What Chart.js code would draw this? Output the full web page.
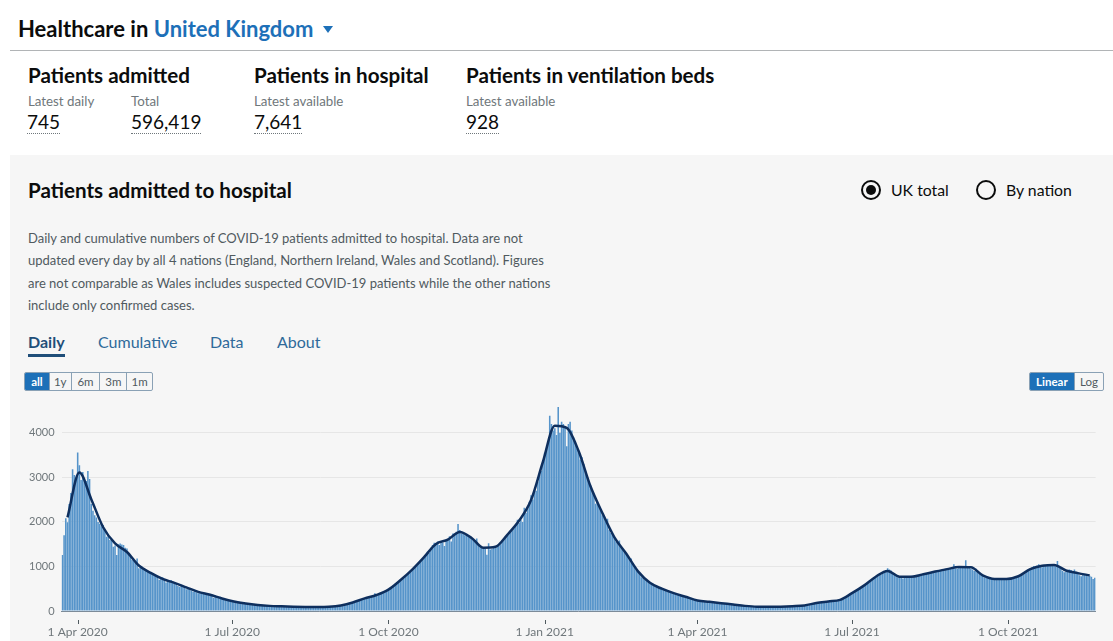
<!DOCTYPE html>
<html>
<head>
<meta charset="utf-8">
<script src="https://cdn.jsdelivr.net/npm/chart.js@4.4.1/dist/chart.umd.min.js"></script>
<style>
  body { margin: 0; width: 1113px; height: 641px; overflow: hidden; background: #fff; position: relative;
         font-family: Lato, "Noto Sans", sans-serif; color: #0b0c0c; }
  .t { position: absolute; white-space: nowrap; line-height: 1; }
  .b { font-weight: 700; }
  .h2 { font-size: 20.6px; font-weight: 700; }
  .lbl { font-size: 13.3px; color: #6f777b; }
  .num { font-size: 19px; padding-bottom: 2px; border-bottom: 1px dotted #6f777b; display: inline-block; }
  #rule { position: absolute; left: 10px; right: 0; top: 50px; height: 1px; background: #b1b4b6; }
  #panel { position: absolute; left: 10px; top: 155px; right: 0; bottom: 0; background: #f6f6f6; }
  .radio { position: absolute; width: 16px; height: 16px; border: 2px solid #0b0c0c; border-radius: 50%; }
  .radio.on::after { content: ""; position: absolute; left: 3px; top: 3px; width: 10px; height: 10px; border-radius: 50%; background: #0b0c0c; }
  #desc { position: absolute; left: 28px; top: 227px; font-size: 13px; line-height: 22.3px; color: #505a5f; white-space: nowrap; }
  .tab { font-size: 16px; color: #2f6a9a; top: 334px; }
  .seg { position: absolute; top: 372px; height: 19px; display: flex; border: 1px solid #8aa1b5; border-radius: 2px; box-sizing: border-box; overflow: hidden; }
  .seg span { display: block; height: 17px; line-height: 17px; text-align: center; font-size: 11.5px; color: #505a5f; border-left: 1px solid #8aa1b5; box-sizing: border-box; }
  .seg span:first-child { border-left: none; }
  .seg span.on { background: #1d70b8; color: #fff; font-weight: 700; }
  #wrap { position: absolute; left: 20px; top: 388px; width: 1093px; height: 253px; }
</style>
</head>
<body>
<div class="t b" style="left:18px;top:18px;font-size:22px">Healthcare in <span style="color:#1d70b8">United Kingdom</span></div>
<div style="position:absolute;left:323px;top:26px;width:0;height:0;border-left:5.5px solid transparent;border-right:5.5px solid transparent;border-top:7px solid #1d70b8"></div>
<div id="rule"></div>

<div class="t h2" style="left:28px;top:65px">Patients admitted</div>
<div class="t lbl" style="left:28px;top:94.5px">Latest daily</div>
<div class="t lbl" style="left:131px;top:94.5px">Total</div>
<div class="t" style="left:27px;top:112px"><span class="num">745</span></div>
<div class="t" style="left:131px;top:112px"><span class="num">596,419</span></div>

<div class="t h2" style="left:254px;top:65px">Patients in hospital</div>
<div class="t lbl" style="left:254px;top:94.5px">Latest available</div>
<div class="t" style="left:254px;top:112px"><span class="num">7,641</span></div>

<div class="t h2" style="left:466px;top:65px">Patients in ventilation beds</div>
<div class="t lbl" style="left:466px;top:94.5px">Latest available</div>
<div class="t" style="left:466px;top:112px"><span class="num">928</span></div>

<div id="panel"></div>
<div class="t h2" style="left:28px;top:180px">Patients admitted to hospital</div>

<div class="radio on" style="left:861px;top:180px"></div>
<div class="t" style="left:891px;top:182px;font-size:15.8px">UK total</div>
<div class="radio" style="left:976px;top:180px"></div>
<div class="t" style="left:1006px;top:182px;font-size:15.8px">By nation</div>

<div id="desc">Daily and cumulative numbers of COVID-19 patients admitted to hospital. Data are not<br>updated every day by all 4 nations (England, Northern Ireland, Wales and Scotland). Figures<br>are not comparable as Wales includes suspected COVID-19 patients while the other nations<br>include only confirmed cases.</div>

<div class="t tab b" style="left:28px;color:#1f4e79">Daily</div>
<div style="position:absolute;left:28px;top:354px;width:37px;height:3px;background:#1f4e79"></div>
<div class="t tab" style="left:98px">Cumulative</div>
<div class="t tab" style="left:210px">Data</div>
<div class="t tab" style="left:277px">About</div>

<div class="seg" style="left:24px;width:129px">
  <span class="on" style="width:24px">all</span><span style="width:22px">1y</span><span style="width:29px">6m</span><span style="width:27px">3m</span><span style="width:26px">1m</span>
</div>
<div class="seg" style="left:1029px;width:75px">
  <span class="on" style="width:45px">Linear</span><span style="width:30px">Log</span>
</div>

<div id="wrap"><canvas id="myChart"></canvas></div>

<script>
// first day of the series is 23 Mar 2020, one value per day, one line per week
var firstDay = '2020-03-23';
var dailyAdmissions = [
  1255, 1700, 2080, 1990, 2400, 2650, 3180,
  3050, 2980, 3557, 3270, 2940, 3120, 2915,
  2920, 3140, 2960, 2400, 2250, 2150, 2100,
  2000, 1960, 1900, 1930, 1820, 1667, 1700,
  1592, 1600, 1443, 1470, 1255, 1500, 1517,
  1490, 1480, 1420, 1405, 1300, 1218, 1150,
  1143, 1100, 1181, 957, 1000, 994, 950,
  920, 880, 860, 845, 830, 800, 790,
  780, 700, 740, 760, 720, 640, 690,
  660, 695, 650, 620, 600, 560, 545,
  590, 560, 540, 490, 520, 510, 460,
  433, 450, 420, 396, 410, 420, 380,
  390, 375, 395, 360, 340, 300, 350,
  310, 290, 321, 280, 260, 247, 250,
  230, 240, 209, 215, 200, 195, 210,
  180, 175, 165, 170, 160, 172, 155,
  150, 140, 145, 132, 128, 130, 125,
  120, 118, 135, 115, 110, 108, 112,
  108, 105, 104, 100, 98, 102, 100,
  96, 98, 94, 92, 97, 93, 95,
  90, 88, 92, 86, 91, 89, 94,
  88, 85, 90, 87, 92, 88, 93,
  90, 95, 92, 98, 96, 100, 95,
  105, 110, 118, 125, 130, 138, 145,
  155, 165, 175, 190, 200, 215, 230,
  245, 255, 270, 285, 300, 310, 320,
  335, 340, 396, 360, 375, 385, 380,
  410, 430, 460, 480, 520, 550, 580,
  610, 640, 670, 700, 730, 760, 790,
  830, 860, 900, 930, 970, 1000, 1020,
  1080, 1120, 1150, 1200, 1270, 1330, 1300,
  1420, 1480, 1530, 1520, 1560, 1480, 1550,
  1540, 1460, 1600, 1620, 1680, 1560, 1740,
  1700, 1780, 1950, 1820, 1740, 1730, 1700,
  1720, 1680, 1650, 1620, 1600, 1580, 1630,
  1500, 1450, 1420, 1390, 1400, 1260, 1520,
  1380, 1400, 1420, 1450, 1480, 1460, 1500,
  1580, 1620, 1680, 1700, 1760, 1820, 1810,
  1860, 1950, 2050, 1980, 2050, 2000, 2320,
  2200, 2300, 2450, 2600, 2500, 2700, 2700,
  2900, 3050, 3150, 3350, 3550, 3650, 3800,
  4380, 4200, 4050, 4100, 3950, 4580, 4000,
  4250, 4200, 4150, 3700, 4200, 4250, 4050,
  3900, 3800, 3650, 3550, 3400, 3450, 3300,
  3150, 3000, 2880, 2820, 2720, 2620, 2410,
  2450, 2380, 2250, 2150, 2100, 2000, 2070,
  1820, 1750, 1700, 1660, 1560, 1550, 1580,
  1430, 1400, 1350, 1300, 1220, 1150, 1180,
  1080, 1000, 920, 880, 850, 760, 740,
  700, 680, 650, 620, 600, 610, 585,
  560, 540, 520, 500, 480, 460, 440,
  450, 430, 410, 400, 380, 370, 360,
  345, 335, 330, 320, 310, 300, 300,
  265, 250, 240, 235, 225, 220, 225,
  215, 210, 205, 200, 205, 200, 200,
  185, 180, 175, 172, 170, 170, 173,
  155, 150, 148, 145, 140, 138, 139,
  125, 120, 118, 115, 110, 108, 109,
  102, 100, 98, 97, 95, 93, 94,
  92, 95, 93, 96, 94, 97, 98,
  96, 98, 97, 100, 99, 97, 99,
  102, 105, 108, 110, 112, 108, 111,
  115, 118, 122, 125, 130, 133, 132,
  150, 165, 175, 185, 190, 195, 200,
  205, 210, 212, 215, 218, 220, 225,
  228, 232, 235, 240, 250, 270, 295,
  320, 350, 380, 400, 430, 450, 470,
  500, 520, 550, 570, 600, 620, 630,
  680, 720, 760, 780, 810, 830, 810,
  850, 880, 920, 960, 930, 910, 850,
  820, 790, 760, 740, 740, 730, 760,
  760, 770, 750, 790, 780, 760, 780,
  790, 800, 820, 830, 840, 850, 845,
  860, 870, 880, 900, 890, 880, 915,
  910, 930, 950, 940, 960, 950, 940,
  1050, 960, 950, 970, 990, 980, 990,
  1140, 1010, 980, 950, 930, 900, 950,
  880, 850, 820, 790, 760, 740, 760,
  740, 720, 710, 700, 720, 710, 740,
  710, 700, 720, 730, 740, 720, 720,
  740, 750, 760, 780, 800, 810, 820,
  850, 890, 930, 950, 980, 1010, 970,
  1020, 1050, 1000, 980, 1040, 1010, 1010,
  1040, 1030, 1020, 1040, 1000, 1120, 995,
  950, 900, 870, 880, 920, 930, 920,
  900, 930, 860, 850, 800, 780, 830,
  820, 810, 780, 790, 770, 720, 745
];

// 7-day average line, read once a week (days 3, 10, 17, ... of the series)
var averageFirstDay = 3;
var averageEveryDays = 7;
var averageAdmissions = [
  2100, 3110, 2510, 1880, 1517, 1325, 1020, 855, 720, 630,
  530, 430, 365, 282, 215, 170, 137, 115, 104, 95,
  90, 89, 95, 125, 190, 283, 360, 480, 690, 930,
  1210, 1505, 1600, 1775, 1640, 1420, 1440, 1710, 2030, 2490,
  3350, 4160, 4110, 3590, 2800, 2200, 1660, 1290, 890, 635,
  500, 400, 320, 237, 205, 175, 145, 115, 97, 95,
  98, 108, 125, 180, 215, 250, 400, 570, 770, 900,
  770, 770, 825, 885, 940, 985, 980, 800, 720, 720,
  780, 940, 1016, 1035, 910, 850, 800
];

var tickDates = ['2020-04-01', '2020-07-01', '2020-10-01', '2021-01-01', '2021-04-01', '2021-07-01', '2021-10-01'];
var tickLabels = ['1 Apr 2020', '1 Jul 2020', '1 Oct 2020', '1 Jan 2021', '1 Apr 2021', '1 Jul 2021', '1 Oct 2021'];
var yTickValues = [0, 1000, 2000, 3000, 4000];

function dayIndex(s) {
  var a = s.split('-'), b = firstDay.split('-');
  return Math.round((Date.UTC(+a[0], a[1] - 1, +a[2]) - Date.UTC(+b[0], b[1] - 1, +b[2])) / 864e5);
}

var tickDays = tickDates.map(dayIndex);
var barPoints = dailyAdmissions.map(function (v, i) { return { x: i, y: v }; });
var linePoints = averageAdmissions.map(function (v, i) { return { x: averageFirstDay + i * averageEveryDays, y: v }; });

// short tick marks under the axis, a little below the baseline
var tickMarks = {
  id: 'tickMarks',
  afterDraw: function (chart) {
    var ctx = chart.ctx, xs = chart.scales.x, y0 = chart.chartArea.bottom;
    ctx.save();
    ctx.strokeStyle = '#505a5f';
    ctx.lineWidth = 1;
    xs.ticks.forEach(function (t) {
      var px = Math.round(xs.getPixelForValue(t.value)) + 0.5;
      ctx.beginPath();
      ctx.moveTo(px, y0 + 9);
      ctx.lineTo(px, y0 + 13);
      ctx.stroke();
    });
    ctx.restore();
  }
};

Chart.defaults.font.family = 'Lato, "Noto Sans", sans-serif';

var ctx = document.getElementById('myChart').getContext('2d');
var chart = new Chart(ctx, {
  type: 'bar',
  data: {
    datasets: [
      {
        type: 'line',
        label: 'Rolling 7-day average',
        data: linePoints,
        borderColor: '#0e2f5e',
        borderWidth: 2.5,
        pointRadius: 0,
        cubicInterpolationMode: 'monotone',
        fill: false,
        order: 0
      },
      {
        type: 'bar',
        label: 'Patients admitted',
        data: barPoints,
        backgroundColor: '#5694ca',
        barPercentage: 0.92,
        categoryPercentage: 1,
        order: 1
      }
    ]
  },
  options: {
    responsive: true,
    maintainAspectRatio: false,
    animation: false,
    layout: { padding: { top: 0, right: 17.35, left: 0, bottom: 0 } },
    plugins: { legend: { display: false }, tooltip: { enabled: false } },
    scales: {
      x: {
        type: 'linear',
        offset: false,
        min: -0.5,
        max: dailyAdmissions.length - 0.5,
        grid: { display: false, drawTicks: false, offset: false },
        border: { display: true, color: '#7c8b99' },
        afterBuildTicks: function (scale) {
          scale.ticks = tickDays.map(function (d) { return { value: d }; });
        },
        afterFit: function (scale) { scale.height = 30; },
        ticks: {
          autoSkip: false,
          maxRotation: 0,
          padding: 14,
          color: '#6f777b',
          font: { size: 12 },
          callback: function (v) { return tickLabels[tickDays.indexOf(v)]; }
        }
      },
      y: {
        min: 0,
        max: 4700,
        afterBuildTicks: function (scale) {
          scale.ticks = yTickValues.map(function (v) { return { value: v }; });
        },
        afterFit: function (scale) { scale.width = 41.55; },
        grid: { color: '#e6e6e6', drawTicks: false },
        border: { display: false },
        ticks: {
          padding: 7,
          color: '#6f777b',
          font: { size: 11 },
          callback: function (v) { return String(v); }
        }
      }
    }
  },
  plugins: [tickMarks]
});
</script>
</body>
</html>
